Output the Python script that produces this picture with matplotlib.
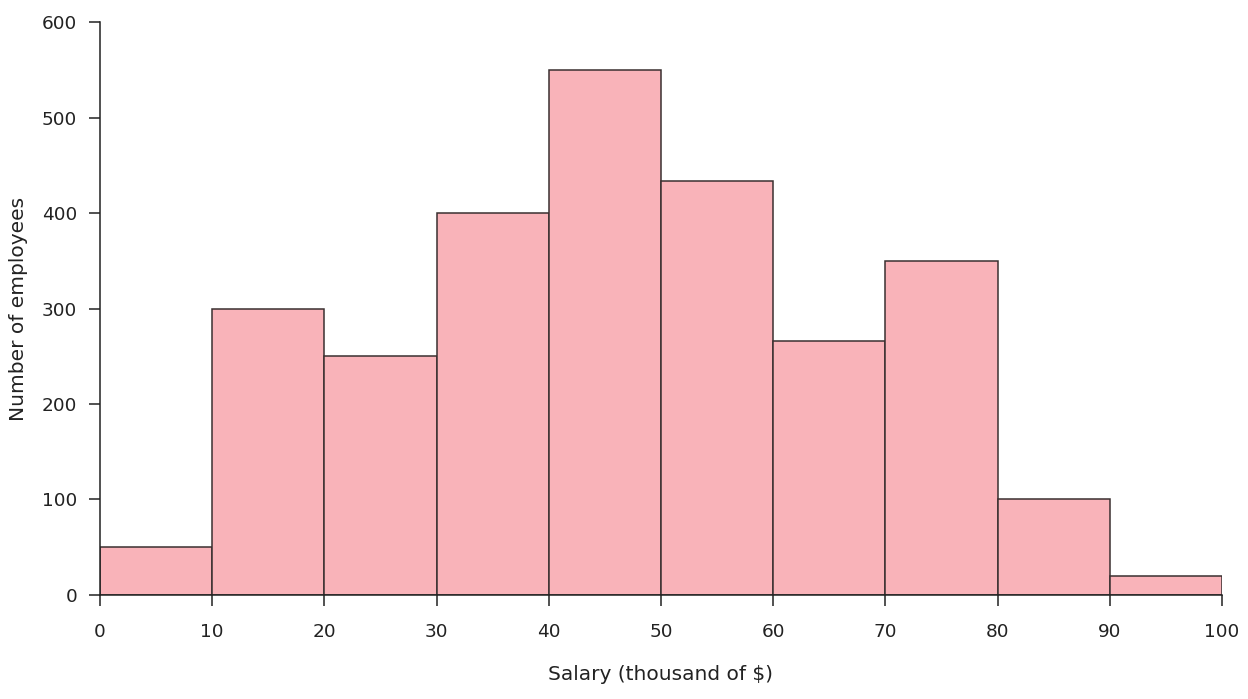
import matplotlib
matplotlib.use("Agg")
import matplotlib.pyplot as plt

bin_edges = [0, 10, 20, 30, 40, 50, 60, 70, 80, 90, 100]
counts = [50, 300, 250, 400, 550, 433, 266, 350, 100, 20]
x_ticks = [0, 10, 20, 30, 40, 50, 60, 70, 80, 90, 100]
y_ticks = [0, 100, 200, 300, 400, 500, 600]

plt.rcParams['font.family'] = ['DejaVu Sans']
fig = plt.figure(figsize=(12.48, 6.99), dpi=100)
ax = fig.add_axes([0.0801, 0.1488, 0.8990, 0.8197])

lefts = bin_edges[:-1]
widths = [bin_edges[i + 1] - bin_edges[i] for i in range(len(counts))]
ax.bar(lefts, counts, width=widths, align='edge', color='#f9b3b9',
       edgecolor='#3a3030', linewidth=1.1)

ax.set_xlim(0, 100)
ax.set_ylim(0, 600)
ax.set_xticks(x_ticks)
ax.set_yticks(y_ticks)
for s in ['top', 'right']:
    ax.spines[s].set_visible(False)
for s in ['left', 'bottom']:
    ax.spines[s].set_color('#222222')
    ax.spines[s].set_linewidth(1.1)
ax.tick_params(axis='both', colors='#222222', labelsize=13.3, length=8, width=1.1)
ax.tick_params(axis='x', pad=12.5)
ax.tick_params(axis='y', pad=8.5)

ax.set_xlabel('Salary (thousand of $)', fontsize=14.5, color='#222222', labelpad=17)
ax.set_ylabel('Number of employees', fontsize=14.5, color='#222222', labelpad=10)

fig.savefig('out.png', dpi=100)
